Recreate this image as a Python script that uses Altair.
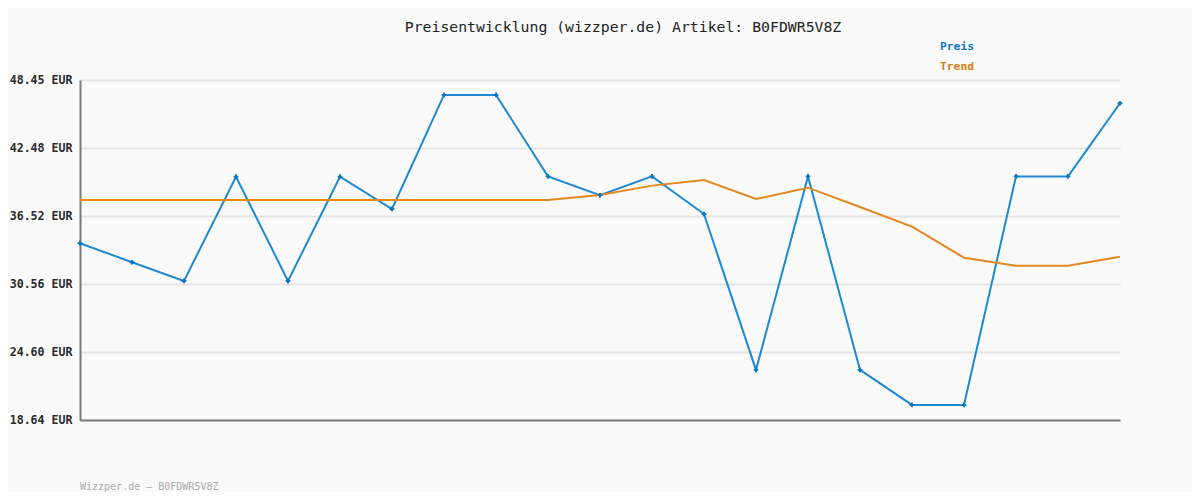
import altair as alt
import pandas as pd

idx = list(range(21))
preis = [34.14, 32.47, 30.83, 39.97, 30.83, 39.97, 37.14, 47.14, 47.14, 40.00,
         38.34, 40.00, 36.70, 23.03, 40.00, 23.03, 19.96, 19.96, 40.00, 40.00, 46.41]
trend = [37.93, 37.93, 37.93, 37.93, 37.93, 37.93, 37.93, 37.93, 37.93, 37.93,
         38.37, 39.19, 39.68, 38.02, 39.01, 37.32, 35.59, 32.87, 32.17, 32.17, 32.96]
y_ticks = [18.64, 24.60, 30.56, 36.52, 42.48, 48.45]
title_text = "Preisentwicklung (wizzper.de) Artikel: B0FDWR5V8Z"
legend_labels = ["Preis", "Trend"]
footer_text = "Wizzper.de \u2013 B0FDWR5V8Z"

df = pd.DataFrame({"i": idx, "Preis": preis, "Trend": trend})

FONT = "DejaVu Sans Mono"
BLUE = "#1f88d2"
BLUE_DARK = "#0a74c4"
ORANGE = "#e3871f"

xs = alt.X("i:Q", scale=alt.Scale(domain=[0, 20], nice=False),
           axis=alt.Axis(labels=False, ticks=False, grid=False, title=None,
                         domainColor="#7a7a7a", domainWidth=2))
ys = alt.Y("Preis:Q", scale=alt.Scale(domain=[18.64, 48.45], nice=False, zero=False),
           axis=alt.Axis(values=y_ticks, title=None, ticks=False,
                         labelExpr="format(datum.value, '.2f') + ' EUR'",
                         labelFont=FONT, labelFontSize=11.6, labelFontWeight="bold",
                         labelColor="#2a2a2a", labelPadding=8,
                         grid=True, gridColor="#e4e4e4", gridWidth=2,
                         domainColor="#7a7a7a", domainWidth=2))

base = alt.Chart(df)
preis_line = base.mark_line(color=BLUE, strokeWidth=2).encode(x=xs, y=ys)
preis_pts = base.mark_point(shape="cross", filled=True, size=22, color=BLUE_DARK, opacity=1).encode(
    x="i:Q", y="Preis:Q")
trend_line = base.mark_line(color=ORANGE, strokeWidth=2).encode(x="i:Q", y="Trend:Q")

title = alt.Chart(pd.DataFrame({"t": [title_text]})).mark_text(
    font=FONT, fontSize=14.8, color="#222222", align="center", baseline="middle"
).encode(x=alt.value(543), y=alt.value(-52), text="t:N")

leg = alt.Chart(pd.DataFrame({"t": legend_labels, "c": [BLUE_DARK, "#d97a10"],
                              "yy": [-33, -13]})).mark_text(
    font=FONT, fontSize=11.3, fontWeight="bold", align="left", baseline="middle"
).encode(x=alt.value(860), y=alt.Y("yy:Q", scale=None),
         text="t:N", color=alt.Color("c:N", scale=None))

footer = alt.Chart(pd.DataFrame({"t": [footer_text]})).mark_text(
    font=FONT, fontSize=10, color="#aaaaaa", align="left", baseline="middle"
).encode(x=alt.value(0), y=alt.value(407), text="t:N")

chart = alt.layer(preis_line, trend_line, preis_pts, title, leg, footer).properties(
    width=1040, height=340,
    autosize=alt.AutoSizeParams(type="none"),
    padding={"left": 72, "top": 72, "right": 72, "bottom": 72},
    background="#fafafa",
).configure_view(stroke=None)

chart.save("out.html", embed_options={"renderer": "svg", "actions": False})
